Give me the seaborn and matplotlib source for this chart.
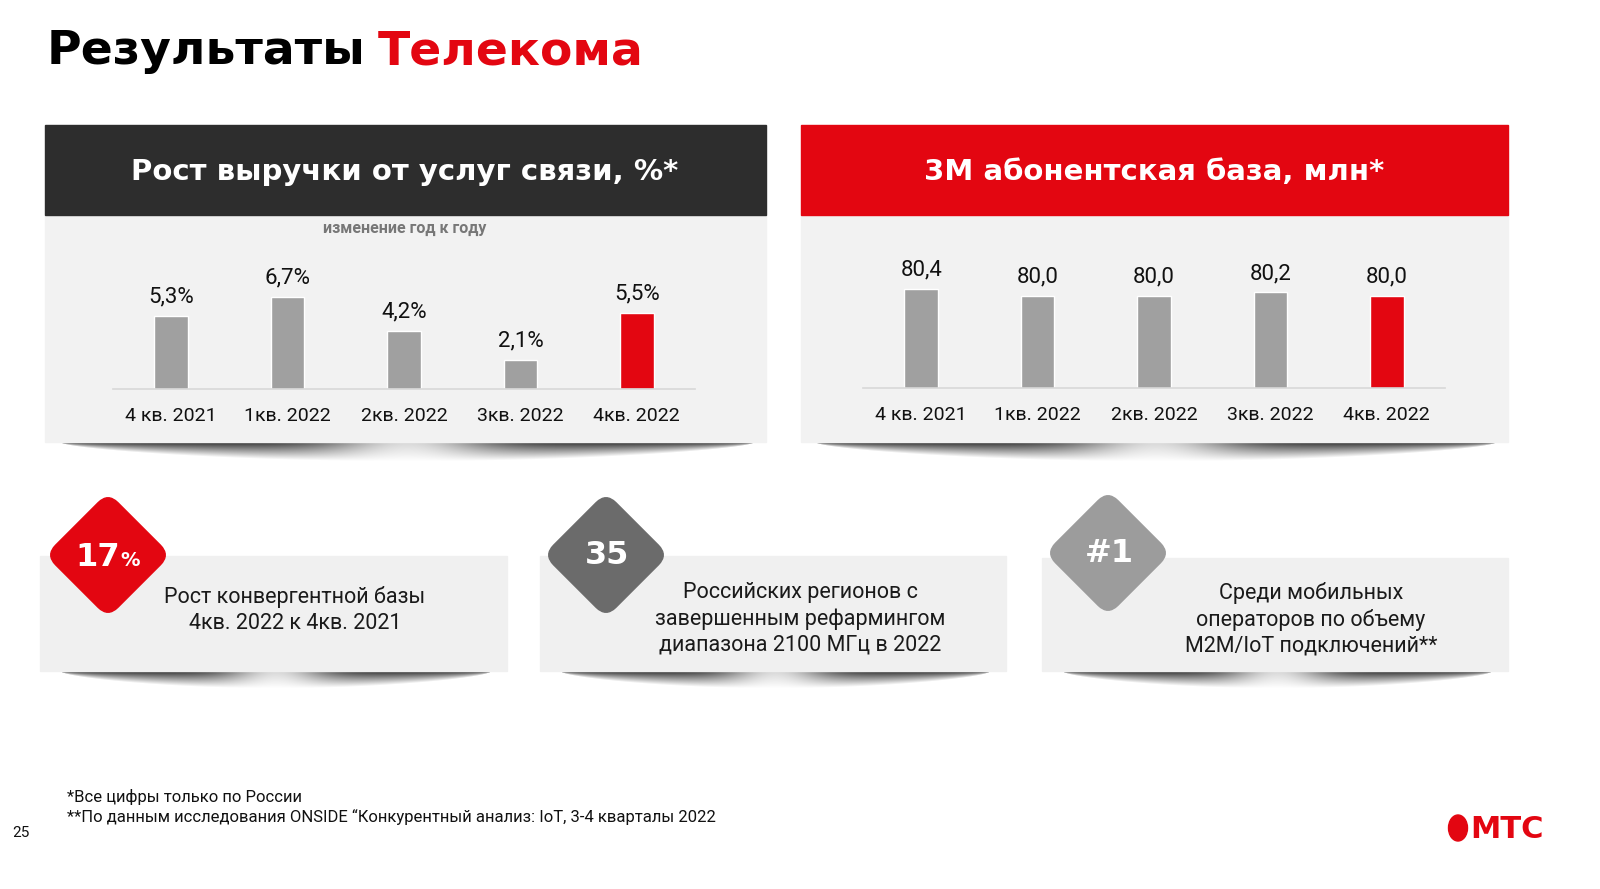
import numpy as np
import pandas as pd
import matplotlib
matplotlib.use("Agg")
import matplotlib.pyplot as plt
import matplotlib.patches as mpatches
from matplotlib.transforms import Affine2D
import seaborn as sns

# DATA
quarters = ["4 кв. 2021", "1кв. 2022", "2кв. 2022", "3кв. 2022", "4кв. 2022"]
revenue_growth = [5.3, 6.7, 4.2, 2.1, 5.5]
subscribers = [80.4, 80.0, 80.0, 80.2, 80.0]
bar_colors = ["#a0a0a0", "#a0a0a0", "#a0a0a0", "#a0a0a0", "#e30611"]

title_black = "Результаты"
title_red = "Телекома"
left_header = "Рост выручки от услуг связи, %*"
left_subtitle = "изменение год к году"
right_header = "3М абонентская база, млн*"
card_texts = [
    "Рост конвергентной базы\n4кв. 2022 к 4кв. 2021",
    "Российских регионов с\nзавершенным рефармингом\nдиапазона 2100 МГц в 2022",
    "Среди мобильных\nоператоров по объему\nM2M/IoT подключений**",
]
footnotes = [
    "*Все цифры только по России",
    "**По данным исследования ONSIDE \u201cКонкурентный анализ: IoT, 3-4 кварталы 2022",
]
page_number = "25"

RED = "#e30611"
DARK = "#2d2d2d"
PANEL = "#f2f2f2"
HEAVY = "DejaVu Sans"

sns.set_theme(style="white")
plt.rcParams['font.family'] = ['Roboto', 'DejaVu Sans']

fig = plt.figure(figsize=(16, 8.89), dpi=100)
fig.patch.set_facecolor("white")

# background layer in pixel coordinates
bg = fig.add_axes([0, 0, 1, 1], zorder=0)
bg.set_xlim(0, 1600)
bg.set_ylim(889, 0)
bg.axis("off")


def shadow(x0, x1, y0, h=20, dark=0.8):
    w = int(x1 - x0)
    u = np.linspace(0, 1, w)
    v = np.linspace(0, 1, h)[:, None]
    thick = np.sin(np.pi * u) ** 0.6
    strength = dark * (1 - 0.8 * np.exp(-((u - 0.5) / 0.12) ** 2))
    a = strength * np.clip(1 - v / np.maximum(thick, 1e-3), 0, 1)
    img = np.zeros((h, w, 4))
    img[..., 3] = a
    bg.imshow(img, extent=(x0, x1, y0 + h, y0), aspect="auto",
              interpolation="bilinear", zorder=0.5)


# title: red word placed right after the black one
t1 = bg.text(47, 52, title_black, family=HEAVY, fontweight="heavy", fontsize=34,
             color="black", va="center", ha="left")
fig.canvas.draw()
bb = t1.get_window_extent(renderer=fig.canvas.get_renderer())
x_end = bg.transData.inverted().transform((bb.x1, bb.y0))[0]
bg.text(x_end + 12, 52, title_red, family=HEAVY, fontweight="heavy", fontsize=34,
        color=RED, va="center", ha="left")

# top panels
shadow(60, 755, 442)
shadow(815, 1497, 442)
bg.add_patch(mpatches.Rectangle((45, 215), 721, 227, color=PANEL, zorder=1))
bg.add_patch(mpatches.Rectangle((45, 125), 721, 90, color=DARK, zorder=1))
bg.add_patch(mpatches.Rectangle((801, 215), 707, 227, color=PANEL, zorder=1))
bg.add_patch(mpatches.Rectangle((801, 125), 707, 90, color=RED, zorder=1))
bg.text(405, 172, left_header, family=HEAVY, fontweight="heavy", fontsize=21,
        color="white", ha="center", va="center", zorder=2)
bg.text(1154, 172, right_header, family=HEAVY, fontweight="heavy", fontsize=21,
        color="white", ha="center", va="center", zorder=2)
bg.text(405, 229, left_subtitle, fontsize=11.5, fontweight="bold",
        color="#777777", ha="center", va="center", zorder=2)

# bottom cards
cards = [(40, 507, 556), (540, 1006, 556), (1042, 1508, 558)]
badges = [(108, 555, RED), (606, 555, "#6b6b6b"), (1108, 553, "#9c9c9c")]
text_centers = [(295, 610), (800, 619), (1311, 619)]
for (x0, x1, y0), (cx, cy, col), (tx, ty), txt in zip(cards, badges, text_centers, card_texts):
    shadow(x0 + 20, x1 - 15, 671, h=18)
    bg.add_patch(mpatches.Rectangle((x0, y0), x1 - x0, 671 - y0, color="#f0f0f0", zorder=1))
    s, r = 88, 14
    d = mpatches.FancyBboxPatch((cx - s / 2 + r, cy - s / 2 + r), s - 2 * r, s - 2 * r,
                                boxstyle=f"round,pad={r}", color=col, zorder=3,
                                transform=Affine2D().rotate_deg_around(cx, cy, 45) + bg.transData)
    bg.add_patch(d)
    bg.text(tx, ty, txt, fontsize=15.5, color="#1a1a1a", ha="center", va="center",
            linespacing=1.3, zorder=4)

bg.text(98, 557, "17", family=HEAVY, fontweight="heavy", fontsize=23, color="white",
        ha="center", va="center", zorder=4)
bg.text(130, 561, "%", family=HEAVY, fontweight="heavy", fontsize=14, color="white",
        ha="center", va="center", zorder=4)
bg.text(607, 556, "35", family=HEAVY, fontweight="heavy", fontsize=23, color="white",
        ha="center", va="center", zorder=4)
bg.text(1109, 554, "#1", family=HEAVY, fontweight="heavy", fontsize=23, color="white",
        ha="center", va="center", zorder=4)

# footer
bg.text(67, 797, footnotes[0], fontsize=12, color="#111111", ha="left", va="center")
bg.text(67, 817, footnotes[1], fontsize=12, color="#111111", ha="left", va="center")
bg.text(12, 833, page_number, fontsize=11, color="#111111", ha="left", va="center")
bg.add_patch(mpatches.Ellipse((1458, 828), 19, 26, color=RED, zorder=2))
bg.text(1470, 829, "МТС", family=HEAVY, fontweight="heavy", fontsize=22, color=RED,
        ha="left", va="center")


def bar_panel(rect, values, ylim, fmt):
    ax = fig.add_axes(rect, zorder=2)
    ax.set_facecolor("none")
    df = pd.DataFrame({"quarter": quarters, "value": values})
    sns.barplot(data=df, x="quarter", y="value", hue="quarter", palette=bar_colors,
                width=0.29, legend=False, ax=ax, saturation=1)
    for cont, v in zip(ax.containers, values):
        ax.bar_label(cont, labels=[fmt(v)], padding=6, fontsize=16, color="#111111")
    ax.set_xlim(-0.5, 4.5)
    ax.set_ylim(*ylim)
    ax.set_xlabel("")
    ax.set_ylabel("")
    ax.set_yticks([])
    ax.tick_params(axis="x", length=0, pad=13, labelsize=14, labelcolor="#111111")
    for side in ["top", "left", "right"]:
        ax.spines[side].set_visible(False)
    ax.spines["bottom"].set_color("#d8d8d8")
    ax.spines["bottom"].set_linewidth(1.2)
    return ax


W, H = 1600, 889
bar_panel([113 / W, (H - 389) / H, 582 / W, 139 / H], revenue_growth,
          (0, 139 / 13.8), lambda v: f"{v:.1f}%".replace(".", ","))
bar_panel([863 / W, (H - 388) / H, 582 / W, 140 / H], subscribers,
          (74.74, 74.74 + 140 / 17.5), lambda v: f"{v:.1f}".replace(".", ","))

fig.savefig("out.png", dpi=100)
